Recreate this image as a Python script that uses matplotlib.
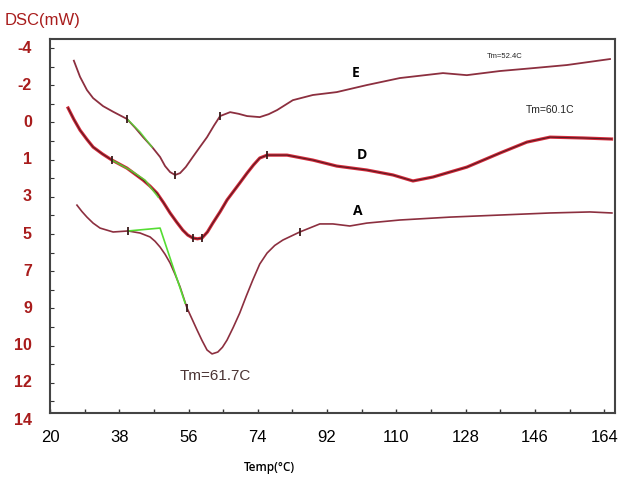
import numpy as np
import matplotlib
matplotlib.use("Agg")
import matplotlib.pyplot as plt
import matplotlib.transforms as mtransforms

plt.rcParams['font.family'] = ['Liberation Sans', 'DejaVu Sans']

# curve E
e_temp = [26.2, 27.8, 29.6, 31.2, 33.8, 36.4, 40.0, 42.1, 44.2, 46.5, 48.6, 49.9, 51.2, 52.5, 53.8,
          55.3, 57.1, 58.9, 60.8, 62.6, 64.2, 66.8, 69.0, 71.2, 74.5, 76.8, 79.0, 83.1, 88.3, 94.5,
          102.3, 110.9, 122.1, 128.3, 136.9, 145.5, 154.3, 165.5]
e_dsc = [-3.39, -2.61, -1.97, -1.58, -1.19, -0.92, -0.57, -0.15, 0.31, 0.78, 1.27, 1.71, 2.00, 2.14, 2.05,
         1.75, 1.27, 0.80, 0.31, -0.25, -0.71, -0.90, -0.82, -0.71, -0.66, -0.80, -1.00, -1.48, -1.73, -1.87,
         -2.21, -2.55, -2.79, -2.69, -2.89, -3.03, -3.18, -3.47]
e_marks = [6, 13, 20]

# curve D
d_temp = [24.7, 26.2, 27.8, 29.6, 31.2, 33.6, 36.1, 40.0, 44.2, 46.0, 47.8, 49.5, 51.2, 52.9, 54.5,
          55.8, 57.1, 58.3, 59.5, 60.9, 62.3, 64.2, 66.0, 69.3, 71.2, 72.9, 74.5, 76.4, 81.6, 88.3,
          94.5, 102.3, 109.1, 114.3, 119.5, 128.3, 136.9, 143.9, 149.9, 158.4, 165.9]
d_dsc = [-1.10, -0.55, -0.03, 0.42, 0.79, 1.12, 1.42, 1.81, 2.39, 2.68, 3.02, 3.48, 3.98, 4.42, 4.81,
         5.05, 5.19, 5.23, 5.19, 4.90, 4.47, 3.92, 3.35, 2.53, 2.05, 1.65, 1.32, 1.18, 1.18, 1.42,
         1.71, 1.90, 2.14, 2.43, 2.24, 1.76, 1.08, 0.55, 0.31, 0.35, 0.40]
d_marks = [6, 16, 18, 27]

# curve A
a_temp = [27.0, 28.3, 29.6, 31.2, 33.0, 36.4, 40.3, 43.4, 46.0, 47.3, 48.6, 49.9, 51.2, 52.5, 53.8,
          55.6, 57.0, 58.2, 59.5, 60.8, 62.1, 63.6, 64.8, 66.0, 67.6, 69.3, 71.0, 72.7, 74.5, 76.4,
          78.4, 80.5, 84.9, 90.1, 93.5, 97.9, 102.3, 110.9, 123.9, 136.9, 149.9, 160.3, 166.0]
a_dsc = [3.60, 3.91, 4.18, 4.47, 4.71, 4.90, 4.85, 4.95, 5.14, 5.35, 5.63, 5.98, 6.40, 6.95, 7.56,
         8.58, 9.15, 9.64, 10.15, 10.61, 10.80, 10.71, 10.48, 10.13, 9.52, 8.82, 8.00, 7.22, 6.45, 5.92,
         5.55, 5.29, 4.90, 4.51, 4.51, 4.61, 4.47, 4.32, 4.18, 4.08, 3.98, 3.93, 3.98]
a_marks = [6, 15, 32]

# green baseline fits
e_fit_temp = [40.3, 43.4, 46.5]
e_fit_dsc = [-0.52, 0.06, 0.79]
d_fit_temp = [36.1, 40.8, 44.7, 48.1]
d_fit_dsc = [1.42, 1.90, 2.39, 3.21]
a_fit_temp = [40.3, 48.6, 55.1]
a_fit_dsc = [4.85, 4.71, 8.34]

x_ticks = [20, 38, 56, 74, 92, 110, 128, 146, 164]
y_label_pos = [-4 + 1.8 * k for k in range(11)]
y_labels = ['-4', '-2', '0', '1', '3', '5', '7', '9', '10', '12', '14']

curve_labels = [('E', 99.5, -2.79), ('D', 101.0, 1.18), ('A', 100.0, 3.89)]

red = '#a81c1c'
maroon = '#8c2f3f'
green = '#55dd33'

fig = plt.figure(figsize=(6.34, 4.78), dpi=100)
ax = fig.add_axes([50 / 634, 1 - 413 / 478, 565 / 634, 374 / 478])

ax.plot(e_temp, e_dsc, color=maroon, lw=1.3)
ax.plot(d_temp, d_dsc, color='#d42a3a', lw=2.3)
ax.plot(d_temp, d_dsc, color='#5a1a22', lw=0.8)
ax.plot(a_temp, a_dsc, color=maroon, lw=1.2)

ax.plot(e_fit_temp, e_fit_dsc, color=green, lw=1.1, alpha=0.85)
ax.plot(d_fit_temp, d_fit_dsc, color=green, lw=1.2, alpha=0.85)
ax.plot(a_fit_temp, a_fit_dsc, color=green, lw=1.2)

for temps, vals, marks in [(e_temp, e_dsc, e_marks), (d_temp, d_dsc, d_marks), (a_temp, a_dsc, a_marks)]:
    ax.plot([temps[i] for i in marks], [vals[i] for i in marks], ls='none',
            marker='|', ms=6, mew=1.3, color='#3a1a1a')

ax.set_xlim(20, 166.8)
ax.set_ylim(13.66, -4.44)

ax.set_xticks(x_ticks)
ax.set_xticklabels([str(t) for t in x_ticks], fontsize=12)
ax.set_xticks(np.arange(29, 167, 18), minor=True)
ax.tick_params(axis='x', which='both', direction='in', length=3, width=1, color='#333333', pad=12)
ax.set_yticks([])
ax.set_yticks(np.arange(-4.0, 13.6, 0.9), minor=True)
ax.tick_params(axis='y', which='minor', direction='in', length=3, width=0.8, color='#333333')

for s in ax.spines.values():
    s.set_color('#444444')
    s.set_linewidth(1.5)

trans = mtransforms.blended_transform_factory(ax.transAxes, ax.transData)
for pos, lab in zip(y_label_pos, y_labels):
    ax.text(-0.032, pos, lab, transform=trans, ha='right', va='center', color=red,
            fontsize=11.5, fontweight='bold', clip_on=False)

for lab, x, y in curve_labels:
    ax.text(x, y, lab, fontsize=10, fontweight='bold', ha='center', va='center', family='Open Sans')

ax.text(138.2, -3.61, 'Tm=52.4C', fontsize=5.5, ha='center', va='center', color='#222222')
ax.text(149.9, -1.0, 'Tm=60.1C', fontsize=7.5, ha='center', va='center', color='#222222')
ax.text(62.9, 11.87, 'Tm=61.7C', fontsize=11, ha='center', va='center', color='#4a3434')

fig.text(5 / 634, 1 - 20 / 478, 'DSC(mW)', color=red, fontsize=12, ha='left', va='center')
fig.text(269 / 634, 1 - 468 / 478, 'Temp(°C)', fontsize=8.5, ha='center', va='center',
         family='Open Sans', fontweight='semibold')

fig.savefig('out.png', dpi=100)
